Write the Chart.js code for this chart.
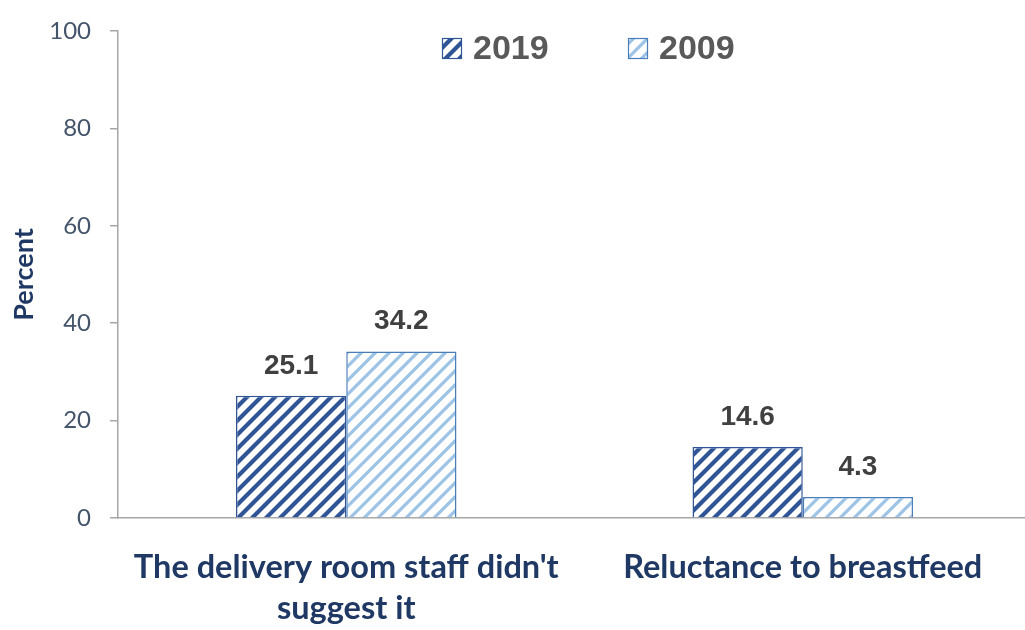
<!DOCTYPE html>
<html>
<head>
<meta charset="utf-8">
<script src="https://cdn.jsdelivr.net/npm/chart.js@4"></script>
<style>
  html, body { margin: 0; padding: 0; background: #fff; overflow: hidden; }
  #wrap { width: 1025px; height: 630px; overflow: hidden; }
</style>
</head>
<body>
<div id="wrap"><canvas id="myChart" width="1031" height="630"></canvas></div>
<script>
const categories = [["The delivery room staff didn't", "suggest it"], "Reluctance to breastfeed"];
const seriesNames = ["2019", "2009"];
const values2019 = [25.1, 14.6];
const values2009 = [34.2, 4.3];
const yTicks = [0, 20, 40, 60, 80, 100];

// diagonal stripe pattern, like the excel hatch fill
function stripes(color, lw) {
  const s = 14;
  const c = document.createElement('canvas');
  c.width = s; c.height = s;
  const g = c.getContext('2d');
  g.fillStyle = '#fff';
  g.fillRect(0, 0, s, s);
  g.strokeStyle = color;
  g.lineWidth = lw;
  g.beginPath();
  g.moveTo(-2, s + 2); g.lineTo(s + 2, -2);
  g.moveTo(-2, 2); g.lineTo(2, -2);
  g.moveTo(s - 2, s + 2); g.lineTo(s + 2, s - 2);
  g.stroke();
  return g.createPattern(c, 'repeat');
}

const ctx = document.getElementById('myChart').getContext('2d');
const darkFill = stripes('#2f5597', 4.2);
const lightFill = stripes('#9dc3e6', 3.2);

const labelsPlugin = {
  id: 'valueLabels',
  afterDatasetsDraw(chart) {
    const c = chart.ctx;
    c.save();
    c.font = 'bold 28px "Liberation Sans", Arial, sans-serif';
    c.fillStyle = '#404040';
    c.textAlign = 'center';
    c.textBaseline = 'alphabetic';
    chart.data.datasets.forEach((ds, i) => {
      chart.getDatasetMeta(i).data.forEach((bar, j) => {
        c.fillText(ds.data[j].toFixed(1), bar.x, bar.y - 22);
      });
    });
    c.restore();
  }
};

const legendPlugin = {
  id: 'topLegend',
  afterDraw(chart) {
    const c = chart.ctx;
    const spots = [442, 628];
    c.save();
    c.font = 'bold 34px "Liberation Sans", Arial, sans-serif';
    c.textBaseline = 'alphabetic';
    chart.data.datasets.forEach((ds, i) => {
      const x = spots[i], y = 38;
      c.fillStyle = ds.backgroundColor;
      c.fillRect(x, y, 20, 21);
      c.strokeStyle = ds.borderColor;
      c.lineWidth = 1.2;
      c.strokeRect(x + 0.5, y + 0.5, 19, 20);
      c.fillStyle = '#595959';
      c.fillText(ds.label, x + 31, y + 21);
    });
    c.restore();
  }
};

new Chart(ctx, {
  type: 'bar',
  data: {
    labels: categories,
    datasets: [{
      label: seriesNames[0],
      data: values2019,
      backgroundColor: darkFill,
      borderColor: '#2f5597',
      borderWidth: 1.5
    }, {
      label: seriesNames[1],
      data: values2009,
      backgroundColor: lightFill,
      borderColor: '#4a7ebb',
      borderWidth: 1.5
    }]
  },
  options: {
    responsive: false,
    animation: false,
    layout: { padding: { top: 27, right: 0, left: 0, bottom: 0 } },
    datasets: { bar: { categoryPercentage: 0.483, barPercentage: 1 } },
    plugins: { legend: { display: false }, tooltip: { enabled: false } },
    scales: {
      x: {
        grid: { display: false },
        border: { color: '#a6a6a6', width: 1.5 },
        ticks: {
          color: '#1f3864',
          font: { family: 'Lato, "Open Sans", sans-serif', size: 32.5, weight: 'bold', lineHeight: 1.26 },
          padding: 21,
          maxRotation: 0
        },
        afterFit(scale) { scale.height = 112; }
      },
      y: {
        min: 0, max: 100,
        afterBuildTicks(scale) { scale.ticks = yTicks.map(v => ({ value: v })); },
        grid: { drawOnChartArea: false, tickLength: 8, color: '#a6a6a6', lineWidth: 1.5 },
        border: { color: '#a6a6a6', width: 1.5 },
        ticks: {
          color: '#44546a',
          font: { family: 'Lato, "Open Sans", sans-serif', size: 24, lineHeight: 1 },
          padding: 19
        },
        title: {
          display: true,
          text: 'Percent',
          color: '#1f3864',
          font: { family: 'Lato, "Open Sans", sans-serif', size: 27, weight: 'bold' },
          padding: { top: 8, bottom: 0 }
        },
        afterFit(scale) { scale.width = 118; }
      }
    }
  },
  plugins: [labelsPlugin, legendPlugin]
});
</script>
</body>
</html>
